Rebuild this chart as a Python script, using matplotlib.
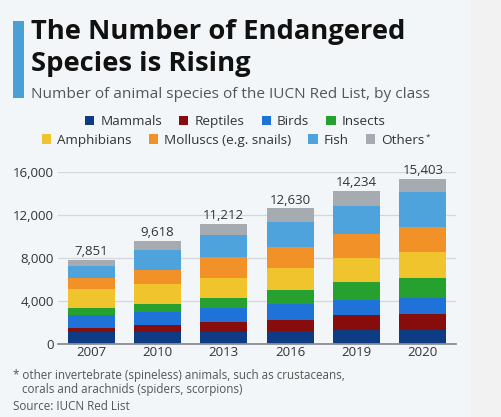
import matplotlib
matplotlib.use("Agg")
import matplotlib.pyplot as plt
from matplotlib.patches import Rectangle
import numpy as np

years = ["2007", "2010", "2013", "2016", "2019", "2020"]
totals = [7851, 9618, 11212, 12630, 14234, 15403]
series_names = ["Mammals", "Reptiles", "Birds", "Insects",
                "Amphibians", "Molluscs (e.g. snails)", "Fish", "Others"]
mammals = [1100, 1120, 1130, 1170, 1250, 1300]
reptiles = [380, 600, 850, 1080, 1400, 1480]
birds = [1240, 1250, 1330, 1480, 1460, 1480]
insects = [620, 720, 920, 1280, 1680, 1900]
amphibians = [1810, 1870, 1930, 2080, 2180, 2430]
molluscs = [990, 1300, 1890, 1900, 2270, 2330]
fish = [1130, 1870, 2090, 2400, 2650, 3220]
others = [t - (m + r + b + i + a + mo + f) for t, m, r, b, i, a, mo, f in
          zip(totals, mammals, reptiles, birds, insects, amphibians, molluscs, fish)]
yticks = [0, 4000, 8000, 12000, 16000]

colors = ["#0e3c84", "#870c0c", "#1f72d8", "#26a02f",
          "#f0c42d", "#f39129", "#4ea3dc", "#a6aab1"]

plt.rcParams['font.family'] = ['Open Sans', 'DejaVu Sans']

W, H = 501, 417
def fx(px): return px / W
def fy(py): return 1 - py / H

fig = plt.figure(figsize=(5.01, 4.17), dpi=100)
renderer = fig.canvas.get_renderer()

def width_of(s, fs, **kw):
    t = fig.text(0, 0, s, fontsize=fs, **kw)
    w = t.get_window_extent(renderer).width
    t.remove()
    return w

def fit_size(s, target, fs=10, **kw):
    return fs * target / width_of(s, fs, **kw)

fig.patch.set_facecolor("#f3f6f9")
fig.add_artist(Rectangle((fx(471), 0), 30 / W, 1, transform=fig.transFigure,
                         facecolor="#f2f2f3", edgecolor="none", zorder=0))
fig.add_artist(Rectangle((fx(13), fy(98)), 11 / W, 77 / H, transform=fig.transFigure,
                         facecolor="#4a9fd5", edgecolor="none"))

tfs = fit_size("The Number of Endangered", 374, 19.7, fontweight="bold")
fig.text(fx(31), fy(39), "The Number of Endangered", fontsize=tfs,
         fontweight="bold", color="#111111", va="baseline", ha="left")
fig.text(fx(31), fy(71), "Species is Rising", fontsize=tfs,
         fontweight="bold", color="#111111", va="baseline", ha="left")
sub = "Number of animal species of the IUCN Red List, by class"
fig.text(fx(31), fy(98), sub, fontsize=fit_size(sub, 397, 11.1),
         color="#555555", va="baseline", ha="left")

# axis
tick_fs = fit_size("2007", 30.5, 10)
ax = fig.add_axes([fx(58), fy(343.7), 398 / W, 171.4 / H])
ax.set_facecolor("none")
x = np.arange(len(years))
data = [mammals, reptiles, birds, insects, amphibians, molluscs, fish, others]
bottom = np.zeros(len(years))
for vals, col in zip(data, colors):
    ax.bar(x, vals, bottom=bottom, width=0.71, color=col, edgecolor="none", zorder=3)
    bottom += np.array(vals)

for xi, t in zip(x, totals):
    ax.annotate(f"{t:,}", (xi, t), xytext=(0, 3.4), textcoords="offset points",
                ha="center", va="baseline", fontsize=tick_fs, color="#333333",
                annotation_clip=False)

ax.set_xlim(-0.5, 5.5)
ax.set_ylim(0, 16000)
ax.set_yticks(yticks)
ax.set_yticklabels([f"{v:,}" for v in yticks])
ax.set_xticks(x)
ax.set_xticklabels(years)
ax.tick_params(axis="both", length=0, labelsize=tick_fs, colors="#333333")
ax.tick_params(axis="y", pad=3)
ax.tick_params(axis="x", pad=2)
ax.grid(axis="y", color="#d3d6db", linewidth=0.9, zorder=0)
for s in ["top", "right", "left"]:
    ax.spines[s].set_visible(False)
ax.spines["bottom"].set_color("#8a8d92")
ax.spines["bottom"].set_linewidth(1.3)
ax.spines["bottom"].set_zorder(4)

# legend (two independently centred rows)
leg_fs = fit_size("Mammals", 62, 10)
star_fs = leg_fs * 0.6
msize, mgap, colgap = 9.3, 6.2, 17.0
rows = [(range(0, 4), 235.3, 125.3), (range(4, 8), 235.8, 144.0)]
for idx, cx, base in rows:
    widths = []
    for i in idx:
        w = width_of(series_names[i], leg_fs)
        if i == 7:
            w += width_of("*", star_fs) + 0.5
        widths.append(w)
    total = sum(msize + mgap + w for w in widths) + colgap * (len(widths) - 1)
    xpos = cx - total / 2
    for i, w in zip(idx, widths):
        fig.add_artist(Rectangle((fx(xpos), fy(base - 0.3)), msize / W, msize / H,
                                 transform=fig.transFigure, facecolor=colors[i],
                                 edgecolor="none"))
        fig.text(fx(xpos + msize + mgap), fy(base), series_names[i], fontsize=leg_fs,
                 color="#333333", va="baseline", ha="left")
        if i == 7:
            tw = width_of(series_names[i], leg_fs)
            fig.text(fx(xpos + msize + mgap + tw + 0.5), fy(base - 5), "*",
                     fontsize=star_fs, color="#333333", va="baseline", ha="left")
        xpos += msize + mgap + w + colgap

# footnotes
note1 = "* other invertebrate (spineless) animals, such as crustaceans,"
nfs = fit_size(note1, 331, 8.4)
fig.text(fx(13), fy(376), note1, fontsize=nfs, color="#555555", va="center", ha="left")
fig.text(fx(22), fy(390), "corals and arachnids (spiders, scorpions)",
         fontsize=nfs, color="#555555", va="center", ha="left")
fig.text(fx(13), fy(406), "Source: IUCN Red List", fontsize=nfs,
         color="#555555", va="center", ha="left")

fig.savefig("out.png", dpi=100, facecolor=fig.get_facecolor())
